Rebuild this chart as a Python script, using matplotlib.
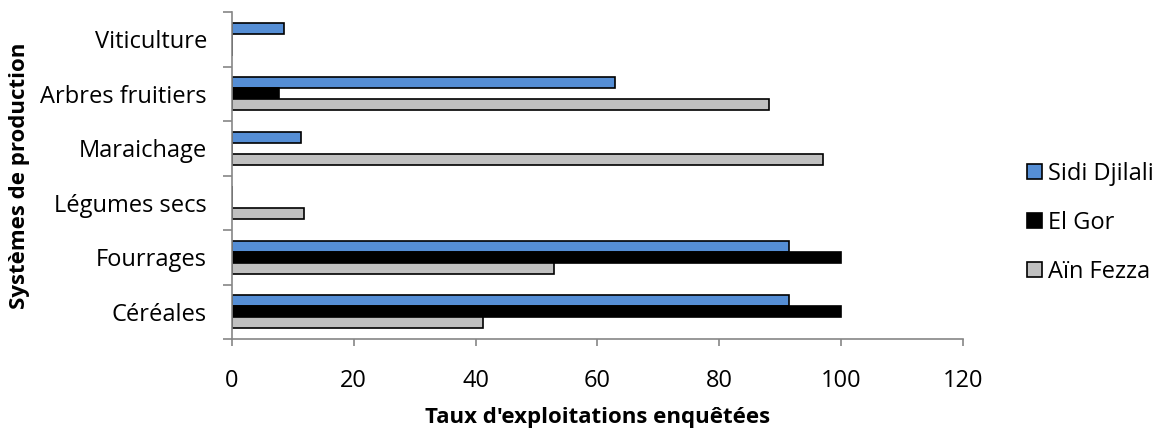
import numpy as np
import matplotlib.pyplot as plt

categories = ['Céréales', 'Fourrages', 'Légumes secs', 'Maraichage', 'Arbres fruitiers', 'Viticulture']
series = ['Sidi Djilali', 'El Gor', 'Aïn Fezza']
sidi_djilali = [91.4, 91.4, 0, 11.4, 62.9, 8.6]
el_gor = [100, 100, 0, 0, 7.7, 0]
ain_fezza = [41.2, 52.9, 11.8, 97.1, 88.2, 0]
x_ticks = [0, 20, 40, 60, 80, 100, 120]

plt.rcParams['font.family'] = ['Open Sans', 'DejaVu Sans']

fig = plt.figure(figsize=(11.58, 4.30), dpi=100)
ax = fig.add_axes([0.2003, 0.2116, 0.6313, 0.7604])

y = np.arange(len(categories))
h = 0.2
couleurs = ['#558ED5', '#000000', '#C0C0C0']
valeurs = [sidi_djilali, el_gor, ain_fezza]
for i, (nom, vals, c) in enumerate(zip(series, valeurs, couleurs)):
    ax.barh(y + (1 - i) * h, vals, height=h, color=c, edgecolor='black',
            linewidth=1.2, label=nom)

ax.set_xlim(0, 120)
ax.set_ylim(-0.5, len(categories) - 0.5)
ax.set_xticks(x_ticks)
ax.tick_params(axis='x', labelsize=17, length=5, color='#868686', width=1.2, pad=16.5)

# ticks entre les categories, libelles au centre
ax.set_yticks(np.arange(-0.5, len(categories), 1))
ax.set_yticklabels([])
ax.set_yticks(y, minor=True)
ax.set_yticklabels(categories, minor=True, fontsize=17)
ax.tick_params(axis='y', which='major', length=6.5, color='#868686', width=1.2)
ax.tick_params(axis='y', which='minor', length=0, pad=18)

for s in ['top', 'right']:
    ax.spines[s].set_visible(False)
for s in ['left', 'bottom']:
    ax.spines[s].set_color('#868686')
    ax.spines[s].set_linewidth(1.2)

ax.set_xlabel("Taux d'exploitations enquêtées", fontsize=16, fontweight='bold', labelpad=10)
ax.set_ylabel('Systèmes de production', fontsize=16, fontweight='bold')
ax.yaxis.set_label_coords(-0.276, 0.5)

ax.legend(loc='center left', bbox_to_anchor=(1.0876, 0.355), frameon=False, fontsize=17,
          borderpad=0, borderaxespad=0,
          handlelength=0.64, handleheight=0.64, handletextpad=0.25, labelspacing=1.06)

plt.savefig('out.png', dpi=100)
